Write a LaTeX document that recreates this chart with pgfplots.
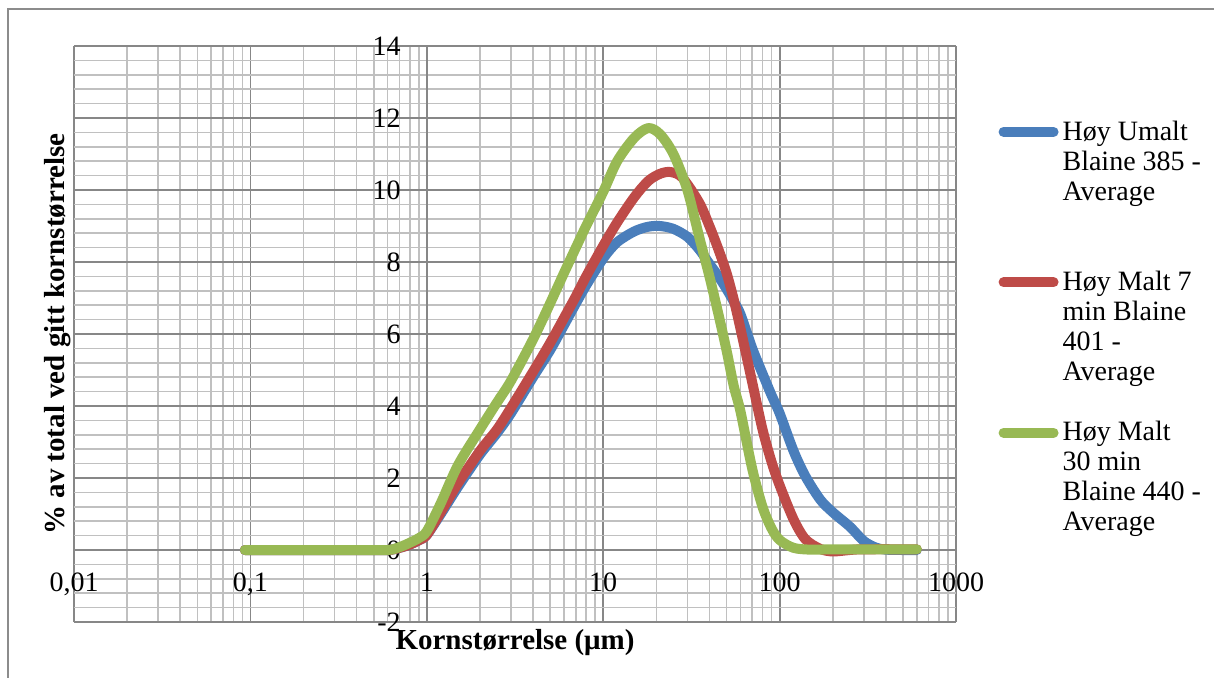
\documentclass[border=0pt]{standalone}
\usepackage{fontspec}
\setmainfont{Liberation Serif}
\usepackage{pgfplots}
\pgfplotsset{compat=1.18}

\definecolor{serblue}{HTML}{4A7EBB}
\definecolor{serred}{HTML}{BE4B48}
\definecolor{sergreen}{HTML}{98B954}
\definecolor{gridmajor}{HTML}{878787}
\definecolor{gridminor}{HTML}{C0C0C0}
\definecolor{framegray}{HTML}{8C8C8C}

% tick labels above the curves, as in the original
\pgfplotsset{
  layers/labelsontop/.define layer set={
    axis background,axis grid,axis ticks,axis lines,pre main,main,axis tick labels,axis descriptions,axis foreground
  }{},
}

\newcommand{\lbl}{\fontsize{14}{15}\selectfont}
\newcommand{\ttl}{\fontsize{14.5}{16}\selectfont}

\begin{document}
\begin{tikzpicture}
\begin{axis}[
  set layers=labelsontop,
  at={(0,0)}, anchor=south west,
  scale only axis, width=441pt, height=288pt,
  xmode=log, xmin=0.01, xmax=1000, ymin=-2, ymax=14,
  xtick={0.01,0.1,1,10,100,1000},
  xticklabels={{0,01},{0,1},1,10,100,1000},
  ytick={-2,0,...,14},
  minor y tick num=4,
  axis lines=middle,
  axis line style={draw=gridmajor, line width=0.9pt, -},
  hide obscured x ticks=false, hide obscured y ticks=false,
  major tick length=0pt, minor tick length=0pt,
  grid=both,
  major grid style={draw=gridmajor, line width=0.9pt},
  minor grid style={draw=gridminor, line width=0.8pt},
  tick label style={font=\lbl},
  /pgf/number format/assume math mode=true,
  xticklabel style={yshift=-8pt},
  yticklabel style={xshift=-9.5pt},
  clip=false,
  legend style={at={(1.041,0.885)}, anchor=north west, draw=none, fill=none,
    font=\lbl, row sep=15pt, nodes={align=left}},
  legend cell align=left,
  legend image code/.code={
    \path[draw=none, fill=none] (0pt,-25pt) rectangle (22.5pt,25pt);
    \draw[#1, line cap=round] (0pt,22.5pt) -- (25pt,22.5pt);},
  every axis plot/.append style={line width=5pt, line cap=round, line join=round, smooth, tension=0.5},
]
\addplot[serblue] coordinates {
(0.093,0) (0.2,0) (0.4,0) (0.6,0) (0.7,0.06) (0.8,0.15) (0.9,0.27) (1,0.42)
(1.2,1.0) (1.5,1.75) (2,2.65) (2.5,3.25) (3,3.8) (4,4.8) (5,5.55) (6,6.25)
(7,6.85) (8,7.35) (10,8.1) (12,8.55) (15,8.85) (18,8.98) (21,9.0) (25,8.92)
(30,8.7) (35,8.35) (40,7.95) (45,7.6) (50,7.25) (55,6.9) (60,6.55) (70,5.6)
(80,4.9) (90,4.3) (100,3.8) (120,2.75) (140,2.05) (170,1.4) (200,1.05)
(250,0.65) (300,0.25) (350,0.07) (400,0.01) (500,0) (600,0)
};
\addlegendentry{Høy Umalt\\Blaine 385 -\\Average\\\mbox{}}
\addplot[serred] coordinates {
(0.093,0) (0.2,0) (0.4,0) (0.6,0) (0.7,0.06) (0.8,0.15) (0.9,0.27) (1,0.42)
(1.2,1.05) (1.5,1.85) (2,2.75) (2.5,3.35) (3,3.95) (4,4.95) (5,5.75) (6,6.45)
(7,7.05) (8,7.6) (10,8.45) (12,9.1) (15,9.8) (18,10.25) (21,10.45) (24,10.5)
(28,10.35) (35,9.65) (40,9.0) (45,8.35) (50,7.7) (55,6.95) (60,6.15) (70,4.65)
(80,3.35) (90,2.45) (100,1.8) (120,0.85) (140,0.3) (170,0.03) (200,-0.04)
(250,0) (300,0.02) (600,0.02)
};
\addlegendentry{Høy Malt 7\\min Blaine\\401 -\\Average}
\addplot[sergreen] coordinates {
(0.093,0) (0.2,0) (0.4,0) (0.6,0) (0.7,0.08) (0.8,0.2) (0.9,0.33) (1,0.52)
(1.2,1.3) (1.5,2.35) (2,3.35) (2.5,4.1) (3,4.7) (4,5.85) (5,6.85) (6,7.7)
(7,8.4) (8,9.0) (10,9.95) (12,10.8) (15,11.45) (18,11.72) (21,11.55) (25,11.0)
(30,10.0) (35,8.7) (40,7.6) (45,6.55) (50,5.55) (55,4.55) (60,3.85) (70,2.25)
(80,1.2) (90,0.6) (100,0.28) (120,0.06) (150,0.01) (200,0.02) (300,0.02) (600,0.02)
};
\addlegendentry{Høy Malt\\30 min\\Blaine 440 -\\Average}
\node[font=\ttl\bfseries, rotate=90] at (axis description cs:-0.019,0.5) {\% av total ved gitt kornstørrelse};
\node[font=\ttl\bfseries] at (axis description cs:0.5,-0.036) {Kornstørrelse (μm)};
\end{axis}
\pgfresetboundingbox
\path[use as bounding box] (-37pt,-27.5pt) rectangle (570pt,311pt);
\draw[framegray, line width=0.8pt] (-33pt,-30pt) -- (-33pt,306.5pt) -- (575pt,306.5pt);
\end{tikzpicture}
\end{document}
